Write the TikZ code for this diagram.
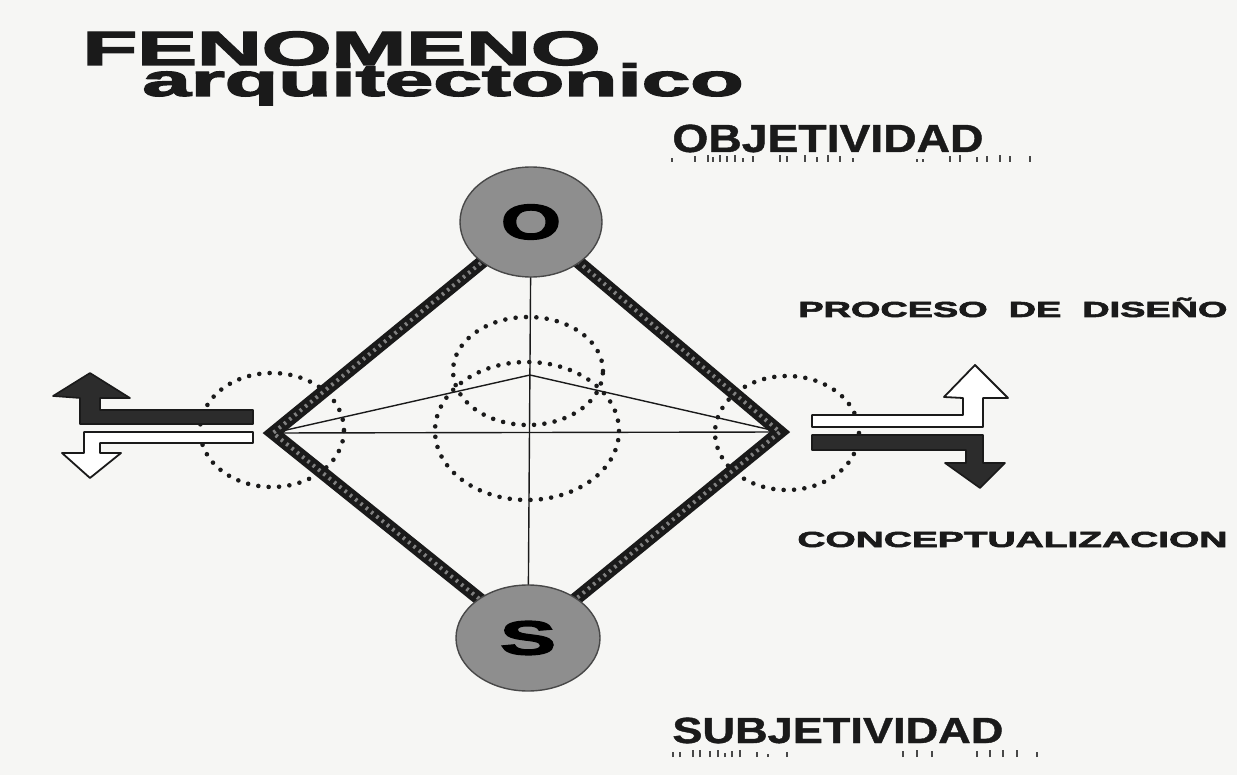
\documentclass[tikz,border=0pt]{standalone}
\usepackage{fontspec}
\usepackage{graphicx}
\usetikzlibrary{shapes.geometric}
\newfontfamily\heavy[FakeBold=2.5]{Liberation Sans}
\newfontfamily\medb[FakeBold=1]{Liberation Sans}
\newcommand{\fitt}[3]{\resizebox{#1}{#2}{\raisebox{0pt}[\fontcharht\font`E][0pt]{#3}}}
\newcommand{\fitx}[3]{\resizebox{#1}{#2}{\raisebox{0pt}[\fontcharht\font`x][0pt]{#3}}}
\definecolor{paper}{HTML}{F6F6F4}
\definecolor{ink}{HTML}{1A1A1A}
\definecolor{disc}{HTML}{8E8E8E}
\tikzset{
  lbl/.style={inner sep=0pt, anchor=base west, text=ink},
  thin/.style={draw=ink, line width=0.7pt},
  dots/.style={draw=ink, line width=2.3pt, line cap=round, dash pattern=on 0pt off 5.2pt},
  edge/.style={draw=ink, line width=6.5pt, line join=miter},
  hatch/.style={draw=ink!55, line width=2pt, dash pattern=on 1.2pt off 2.2pt},
  disk/.style={ellipse, draw=ink!80, line width=0.7pt, fill=disc, inner sep=0pt},
  darkarrow/.style={fill=ink!92, draw=ink, line width=0.8pt, line join=round},
  whitearrow/.style={fill=white, draw=ink, line width=0.9pt, line join=round},
  tick/.style={draw=ink!80, line width=0.9pt}
}
\begin{document}
\begin{tikzpicture}[x=0.5pt, y=-0.5pt]
\fill[paper] (0,0) rectangle (1237,775);
\useasboundingbox (0,0) rectangle (1237,775);

% title
\node[lbl, font=\heavy\bfseries] (t1) at (82,65) {\fitt{259pt}{16.5pt}{FENOMENO}};
\node[lbl, font=\heavy\bfseries] (t2) at (142,96) {\fitx{300.5pt}{12pt}{arquitectonico}};

% side labels
\node[lbl, font=\medb\bfseries] (obj) at (672,152) {\fitt{155.5pt}{13.5pt}{OBJETIVIDAD}};
\node[lbl, font=\medb\bfseries] (sub) at (672,743) {\fitt{165.5pt}{12.5pt}{SUBJETIVIDAD}};
\node[lbl, font=\heavy\bfseries] (pro) at (798,317) {\fitt{214.5pt}{7.5pt}{PROCESO\ \ DE\ \ DISEÑO}};
\node[lbl, font=\heavy\bfseries] (con) at (797,547) {\fitt{215pt}{7.5pt}{CONCEPTUALIZACION}};

% tick marks under labels
\foreach \x/\h in {672/4,695/6,708/7,713/5,720/7,727/6,735/7,743/4,753/6,780/7,787/6,805/7,817/5,828/7,840/6,853/4,917/3,923/3,950/6,960/7,977/5,987/6,1000/7,1010/6,1030/6}
  \draw[tick] (\x,162) -- (\x,162-\h);
\foreach \x/\h in {673/5,680/5,693/7,700/7,710/6,718/7,725/4,732/6,740/7,757/5,768/3,787/5,903/6,917/7,932/6,977/6,990/7,1003/7,1017/7,1037/5}
  \draw[tick] (\x,757) -- (\x,757-\h);

% key points
\coordinate (L) at (273,433);
\coordinate (R) at (780,432);
\coordinate (A) at (530,375);
\coordinate (Oc) at (531,222);
\coordinate (Sc) at (528,638);

% dotted circles
\draw[dots] (272,430) ellipse [x radius=36pt, y radius=28.5pt];
\draw[dots] (787,433) ellipse [x radius=36pt, y radius=28.5pt];
\draw[dots] (528,371) ellipse [x radius=37.5pt, y radius=27pt];
\draw[dots] (527,431) ellipse [x radius=46pt, y radius=34.5pt];

% thin lines
\draw[thin] (L) -- (A) -- (R);
\draw[thin] (L) -- (R);
\draw[thin] (Oc) -- (Sc);

% diamond
\draw[edge] (Oc) -- (R) -- (Sc) -- (L) -- cycle;
\draw[hatch] (Oc) -- (R) -- (Sc) -- (L) -- cycle;

% discs
\node[disk, minimum width=71pt, minimum height=55pt, font=\heavy\bfseries] (O) at (Oc) {\fitt{30pt}{17pt}{O}};
\node[disk, minimum width=72pt, minimum height=53pt, font=\heavy\bfseries] (S) at (Sc) {\fitt{28pt}{16.5pt}{S}};

% left arrows
\fill[darkarrow] (253,410) -- (100,410) -- (100,398) -- (130,398) -- (90,373) -- (53,396) -- (80,398) -- (80,424) -- (253,424) -- cycle;
\filldraw[whitearrow] (253,432) -- (84,432) -- (84,453) -- (62,453) -- (90,478) -- (121,453) -- (100,453) -- (100,443) -- (253,443) -- cycle;

% right arrows
\filldraw[whitearrow] (812,415) -- (963,415) -- (963,398) -- (944,397) -- (975,365) -- (1008,398) -- (983,398) -- (983,427) -- (812,427) -- cycle;
\fill[darkarrow] (812,435) -- (983,435) -- (983,463) -- (1005,463) -- (980,488) -- (945,463) -- (966,463) -- (966,450) -- (812,450) -- cycle;
\end{tikzpicture}
\end{document}
